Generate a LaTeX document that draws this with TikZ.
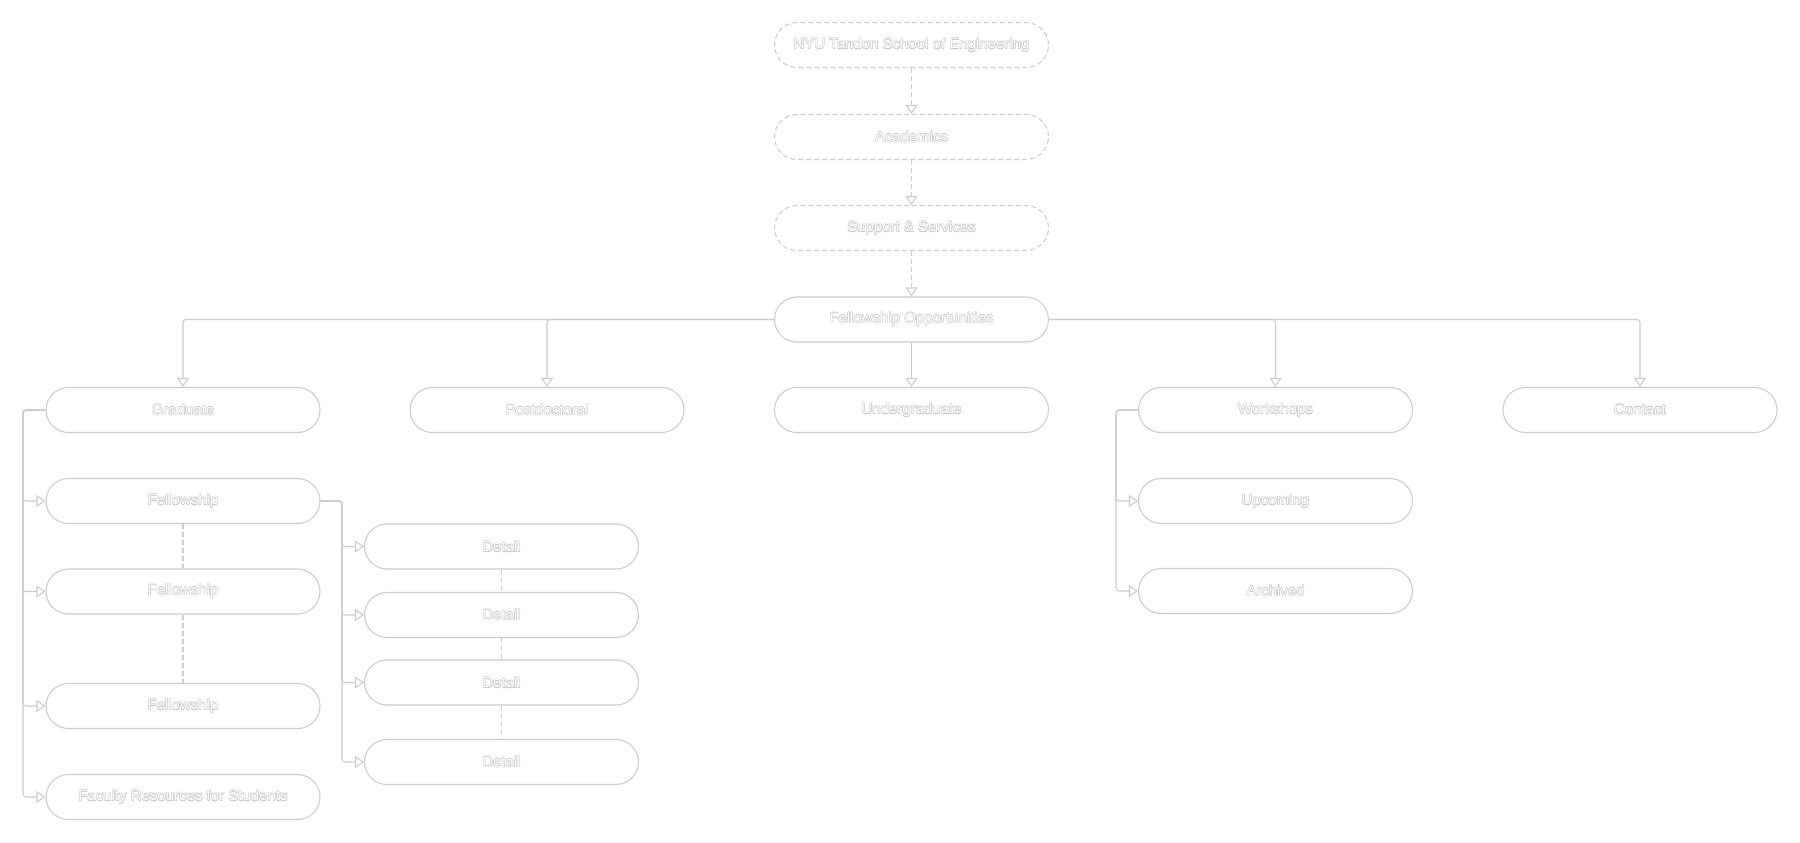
\documentclass[tikz,border=0pt]{standalone}
\usepackage{fontspec}
\setmainfont{Liberation Sans}
\usetikzlibrary{arrows.meta,shapes.misc}
\definecolor{edge}{HTML}{CCCCCC}
\definecolor{tl}{HTML}{C8C8C8}
\newcommand{\olcopy}[3]{\makebox[0pt][l]{\hspace*{#1}\raisebox{#2}{\color{tl}#3}}}
\newcommand{\olt}[1]{%
  \olcopy{0.45pt}{0pt}{#1}\olcopy{-0.45pt}{0pt}{#1}%
  \olcopy{0pt}{0.45pt}{#1}\olcopy{0pt}{-0.45pt}{#1}%
  \olcopy{0.32pt}{0.32pt}{#1}\olcopy{-0.32pt}{0.32pt}{#1}%
  \olcopy{0.32pt}{-0.32pt}{#1}\olcopy{-0.32pt}{-0.32pt}{#1}%
  #1}
\tikzset{
  box/.style={rounded rectangle, draw=edge, line width=1.1pt, fill=white,
    minimum width=274pt, minimum height=45pt, inner sep=0pt, text=white,
    font=\fontsize{15}{18}\selectfont},
  dbox/.style={box, dash pattern=on 5pt off 3pt},
  conn/.style={draw=edge, line width=1.1pt, rounded corners=3pt,
    -{Triangle[open, width=12pt, length=9pt]}},
  dconn/.style={conn, dash pattern=on 5pt off 3pt},
  link/.style={draw=edge, line width=1.1pt, dash pattern=on 5pt off 3pt},
}
\begin{document}
\begin{tikzpicture}[x=1pt, y=-1pt]
\useasboundingbox[fill=white] (0,0) rectangle (1800,843);
% top chain
\node[dbox] (nyu) at (911.5,45) {\olt{NYU Tandon School of Engineering}};
\node[dbox] (acad) at (911.5,137) {\olt{Academics}};
\node[dbox] (supp) at (911.5,228) {\olt{Support \& Services}};
\node[box] (fo) at (911.5,319.5) {\olt{Fellowship Opportunities}};
% row 2
\node[box] (grad) at (183,410) {\olt{Graduate}};
\node[box] (post) at (547,410) {\olt{Postdoctoral}};
\node[box] (under) at (911.5,410) {\olt{Undergraduate}};
\node[box] (work) at (1275.5,410) {\olt{Workshops}};
\node[box] (cont) at (1640,410) {\olt{Contact}};
% graduate children
\node[box] (f1) at (183,501) {\olt{Fellowship}};
\node[box] (f2) at (183,591.5) {\olt{Fellowship}};
\node[box] (f3) at (183,706) {\olt{Fellowship}};
\node[box] (fac) at (183,797) {\olt{Faculty Resources for Students}};
% details
\node[box] (d1) at (501.5,546.5) {\olt{Detail}};
\node[box] (d2) at (501.5,615) {\olt{Detail}};
\node[box] (d3) at (501.5,682.5) {\olt{Detail}};
\node[box] (d4) at (501.5,762) {\olt{Detail}};
% workshops children
\node[box] (up) at (1275.5,501) {\olt{Upcoming}};
\node[box] (arch) at (1275.5,591) {\olt{Archived}};
% top dashed connectors
\draw[dconn] (nyu.south) -- (acad.north);
\draw[dconn] (acad.south) -- (supp.north);
\draw[dconn] (supp.south) -- (fo.north);
% fellowship opportunities fan-out
\draw[conn] (fo.west) -| (grad.north);
\draw[conn] (fo.west) -| (post.north);
\draw[conn] (fo.south) -- (under.north);
\draw[conn] (fo.east) -| (work.north);
\draw[conn] (fo.east) -| (cont.north);
% graduate tree
\coordinate (gx) at (23,410);
\draw[conn] (grad.west) -- (gx) |- (f1.west);
\draw[conn] (grad.west) -- (gx) |- (f2.west);
\draw[conn] (grad.west) -- (gx) |- (f3.west);
\draw[conn] (grad.west) -- (gx) |- (fac.west);
% detail tree
\coordinate (dx) at (342,501);
\draw[conn] (f1.east) -- (dx) |- (d1.west);
\draw[conn] (f1.east) -- (dx) |- (d2.west);
\draw[conn] (f1.east) -- (dx) |- (d3.west);
\draw[conn] (f1.east) -- (dx) |- (d4.west);
% workshops tree
\coordinate (wx) at (1116,410);
\draw[conn] (work.west) -- (wx) |- (up.west);
\draw[conn] (work.west) -- (wx) |- (arch.west);
% dashed links
\draw[link] (f1.south) -- (f2.north);
\draw[link] (f2.south) -- (f3.north);
\draw[link] (d1.south) -- (d2.north);
\draw[link] (d2.south) -- (d3.north);
\draw[link] (d3.south) -- (d4.north);
\end{tikzpicture}
\end{document}
